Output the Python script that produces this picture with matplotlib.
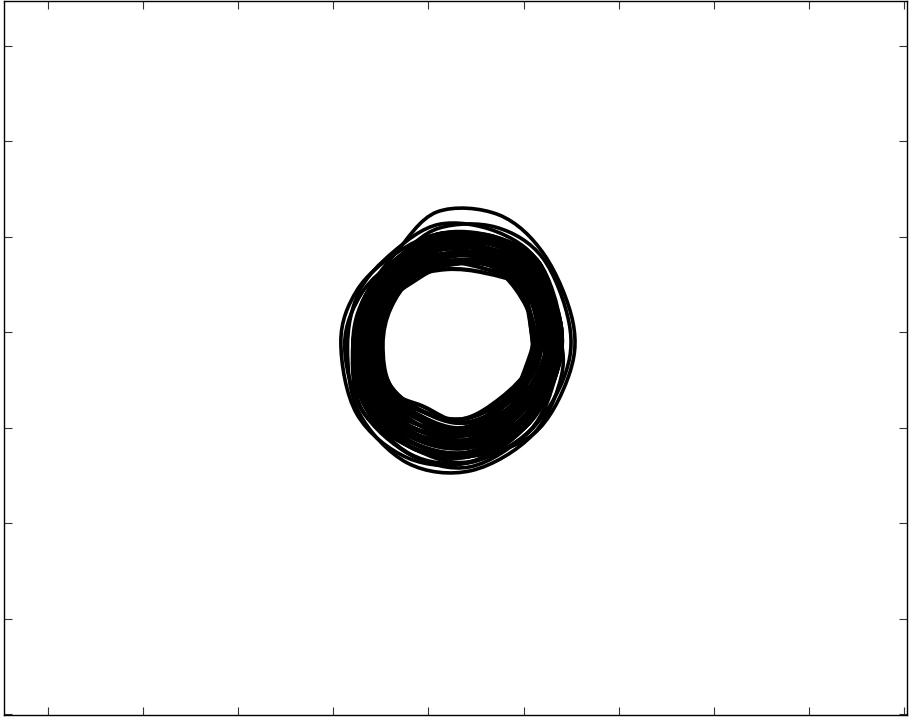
import numpy as np
import matplotlib
matplotlib.use("Agg")
import matplotlib.pyplot as plt
from matplotlib.path import Path
from matplotlib.patches import PathPatch

# Tick positions (no labels shown in the reference)
x_ticks = [-4, -3, -2, -1, 0, 1, 2, 3, 4, 5]
y_ticks = [-4, -3, -2, -1, 0, 1, 2, 3]

# Dense core of the orbit: closed loops (x lists, y lists)
core_loops_x = [
    [-0.48, -0.40, -0.18, 0.19, 0.60, 0.95, 1.08, 1.06, 0.76, 0.36, -0.06, -0.40],
    [-0.51, -0.46, -0.16, 0.18, 0.62, 0.92, 1.11, 1.03, 0.82, 0.37, -0.05, -0.43],
    [-0.58, -0.46, -0.18, 0.18, 0.62, 1.00, 1.18, 1.10, 0.79, 0.36, -0.06, -0.46],
    [-0.55, -0.49, -0.21, 0.17, 0.62, 0.95, 1.11, 1.10, 0.85, 0.38, -0.08, -0.46],
    [-0.62, -0.52, -0.21, 0.17, 0.63, 1.03, 1.25, 1.17, 0.85, 0.38, -0.10, -0.54],
    [-0.58, -0.54, -0.25, 0.16, 0.64, 1.00, 1.22, 1.20, 0.91, 0.39, -0.09, -0.49],
    [-0.65, -0.54, -0.27, 0.14, 0.65, 1.05, 1.22, 1.20, 0.94, 0.41, -0.13, -0.54],
    [-0.69, -0.60, -0.25, 0.15, 0.66, 1.11, 1.29, 1.24, 0.91, 0.40, -0.13, -0.60],
    [-0.72, -0.60, -0.30, 0.14, 0.66, 1.08, 1.32, 1.27, 1.00, 0.41, -0.15, -0.57],
    [-0.76, -0.60, -0.29, 0.13, 0.68, 1.13, 1.32, 1.27, 0.97, 0.42, -0.16, -0.60],
    [-0.79, -0.63, -0.32, 0.13, 0.67, 1.13, 1.39, 1.31, 1.03, 0.42, -0.16, -0.66],
    [-0.79, -0.66, -0.30, 0.12, 0.69, 1.16, 1.39, 1.34, 1.00, 0.43, -0.17, -0.66],
    [-0.76, -0.66, -0.32, 0.12, 0.68, 1.16, 1.36, 1.34, 1.03, 0.43, -0.17, -0.63],
    [-0.69, -0.63, -0.29, 0.14, 0.67, 1.08, 1.36, 1.24, 0.97, 0.41, -0.12, -0.63],
    [-0.51, -0.43, -0.20, 0.17, 0.61, 0.98, 1.15, 1.06, 0.79, 0.38, -0.08, -0.43],
    [-0.62, -0.49, -0.20, 0.17, 0.64, 1.03, 1.18, 1.13, 0.82, 0.38, -0.10, -0.52],
    [-0.65, -0.57, -0.25, 0.16, 0.65, 1.08, 1.25, 1.24, 0.94, 0.40, -0.12, -0.57],
    [-0.72, -0.57, -0.29, 0.14, 0.66, 1.05, 1.29, 1.27, 0.97, 0.41, -0.15, -0.60],
    [-0.76, -0.63, -0.29, 0.13, 0.69, 1.13, 1.36, 1.27, 1.00, 0.42, -0.17, -0.63],
    [-0.58, -0.52, -0.25, 0.15, 0.64, 1.05, 1.25, 1.17, 0.88, 0.40, -0.10, -0.49],
    [-0.69, -0.54, -0.23, 0.15, 0.66, 1.08, 1.32, 1.24, 0.91, 0.39, -0.12, -0.57],
    [-0.79, -0.60, -0.30, 0.12, 0.68, 1.11, 1.39, 1.31, 0.97, 0.43, -0.16, -0.66],
    [-0.55, -0.43, -0.21, 0.16, 0.63, 0.98, 1.22, 1.10, 0.85, 0.39, -0.08, -0.49],
    [-0.62, -0.54, -0.23, 0.17, 0.65, 1.03, 1.18, 1.20, 0.88, 0.38, -0.12, -0.52],
    [-0.69, -0.60, -0.27, 0.14, 0.67, 1.11, 1.29, 1.20, 0.94, 0.41, -0.13, -0.57],
    [-0.76, -0.66, -0.30, 0.14, 0.68, 1.16, 1.32, 1.34, 1.00, 0.41, -0.15, -0.63],
    [-0.51, -0.40, -0.18, 0.17, 0.62, 0.98, 1.08, 1.10, 0.82, 0.37, -0.06, -0.40],
    [-0.65, -0.52, -0.27, 0.14, 0.66, 1.05, 1.25, 1.24, 0.91, 0.41, -0.13, -0.54],
    [-0.76, -0.60, -0.30, 0.13, 0.67, 1.13, 1.39, 1.34, 1.07, 0.44, -0.19, -0.66],
    [-0.79, -0.63, -0.29, 0.14, 0.68, 1.11, 1.36, 1.31, 1.03, 0.44, -0.17, -0.70],
]
core_loops_y = [
    [-0.13, 0.25, 0.56, 0.66, 0.62, 0.48, 0.03, -0.36, -0.69, -0.91, -0.83, -0.56],
    [-0.10, 0.28, 0.53, 0.70, 0.71, 0.45, 0.04, -0.35, -0.75, -0.95, -0.78, -0.59],
    [-0.16, 0.28, 0.56, 0.70, 0.71, 0.54, 0.05, -0.37, -0.72, -0.91, -0.83, -0.61],
    [-0.13, 0.29, 0.61, 0.74, 0.71, 0.48, 0.04, -0.37, -0.79, -1.04, -0.88, -0.61],
    [-0.11, 0.31, 0.61, 0.74, 0.75, 0.57, 0.06, -0.39, -0.79, -1.00, -0.97, -0.68],
    [-0.15, 0.32, 0.67, 0.82, 0.79, 0.54, 0.05, -0.40, -0.85, -1.08, -0.92, -0.63],
    [-0.13, 0.32, 0.70, 0.91, 0.83, 0.61, 0.05, -0.40, -0.88, -1.17, -1.07, -0.68],
    [-0.14, 0.35, 0.67, 0.87, 0.87, 0.67, 0.06, -0.41, -0.85, -1.13, -1.07, -0.73],
    [-0.12, 0.35, 0.75, 0.95, 0.87, 0.64, 0.07, -0.42, -0.95, -1.21, -1.11, -0.71],
    [-0.13, 0.35, 0.72, 0.99, 0.96, 0.70, 0.07, -0.42, -0.92, -1.26, -1.16, -0.73],
    [-0.14, 0.37, 0.78, 0.99, 0.92, 0.70, 0.08, -0.43, -0.98, -1.26, -1.16, -0.78],
    [-0.12, 0.38, 0.75, 1.03, 1.00, 0.73, 0.08, -0.44, -0.95, -1.30, -1.21, -0.78],
    [-0.15, 0.38, 0.78, 1.03, 0.96, 0.73, 0.07, -0.44, -0.98, -1.30, -1.21, -0.75],
    [-0.12, 0.37, 0.72, 0.91, 0.92, 0.64, 0.07, -0.41, -0.92, -1.17, -1.02, -0.75],
    [-0.13, 0.26, 0.59, 0.74, 0.66, 0.51, 0.04, -0.36, -0.72, -1.00, -0.88, -0.59],
    [-0.11, 0.29, 0.59, 0.78, 0.79, 0.57, 0.05, -0.38, -0.75, -1.04, -0.97, -0.66],
    [-0.13, 0.34, 0.67, 0.82, 0.83, 0.64, 0.06, -0.41, -0.88, -1.13, -1.02, -0.71],
    [-0.15, 0.34, 0.72, 0.95, 0.87, 0.61, 0.06, -0.42, -0.92, -1.17, -1.11, -0.73],
    [-0.13, 0.37, 0.72, 0.99, 1.00, 0.70, 0.07, -0.42, -0.95, -1.26, -1.21, -0.75],
    [-0.14, 0.31, 0.67, 0.87, 0.79, 0.61, 0.06, -0.39, -0.82, -1.13, -0.97, -0.63],
    [-0.13, 0.32, 0.64, 0.87, 0.87, 0.64, 0.07, -0.41, -0.85, -1.08, -1.02, -0.71],
    [-0.12, 0.35, 0.75, 1.03, 0.96, 0.67, 0.08, -0.43, -0.92, -1.30, -1.16, -0.78],
    [-0.15, 0.26, 0.61, 0.82, 0.75, 0.51, 0.05, -0.37, -0.79, -1.08, -0.88, -0.63],
    [-0.12, 0.32, 0.64, 0.78, 0.83, 0.57, 0.05, -0.40, -0.82, -1.04, -1.02, -0.66],
    [-0.14, 0.35, 0.70, 0.95, 0.92, 0.67, 0.06, -0.40, -0.88, -1.21, -1.07, -0.71],
    [-0.11, 0.38, 0.75, 0.95, 0.96, 0.73, 0.07, -0.44, -0.95, -1.21, -1.11, -0.75],
    [-0.14, 0.25, 0.56, 0.74, 0.71, 0.51, 0.03, -0.37, -0.75, -0.95, -0.83, -0.56],
    [-0.12, 0.31, 0.70, 0.91, 0.87, 0.61, 0.06, -0.41, -0.85, -1.17, -1.07, -0.68],
    [-0.13, 0.35, 0.75, 0.99, 0.92, 0.70, 0.08, -0.44, -1.03, -1.36, -1.28, -0.78],
    [-0.12, 0.37, 0.72, 0.95, 0.96, 0.67, 0.07, -0.43, -0.98, -1.36, -1.21, -0.81],
]

# Outlying loops of the orbit
stray_loops_x = [
    [-0.92, -0.75, -0.35, 0.12, 0.68, 1.11, 1.32, 1.31, 1.03, 0.44, -0.21, -0.75],
    [-0.76, -0.66, -0.35, 0.09, 0.74, 1.22, 1.52, 1.47, 1.10, 0.43, -0.16, -0.63],
    [-0.85, -0.73, -0.37, 0.11, 0.70, 1.16, 1.36, 1.40, 1.10, 0.45, -0.22, -0.73],
    [-0.88, -0.70, -0.32, 0.11, 0.71, 1.20, 1.48, 1.43, 1.07, 0.44, -0.19, -0.70],
]
stray_loops_y = [
    [-0.10, 0.44, 0.82, 1.03, 0.96, 0.67, 0.07, -0.43, -0.98, -1.36, -1.32, -0.86],
    [-0.13, 0.38, 0.82, 1.26, 1.23, 0.81, 0.10, -0.47, -1.07, -1.30, -1.16, -0.75],
    [-0.16, 0.42, 0.84, 1.13, 1.06, 0.73, 0.07, -0.45, -1.07, -1.45, -1.37, -0.84],
    [-0.13, 0.41, 0.78, 1.09, 1.10, 0.78, 0.09, -0.46, -1.03, -1.41, -1.28, -0.81],
]


def smooth_closed_path(xs, ys):
    """Closed cubic Bezier path passing through the given points (Catmull-Rom handles)."""
    p = np.column_stack([xs, ys]).astype(float)
    n = len(p)
    verts = [p[0]]
    codes = [Path.MOVETO]
    for i in range(n):
        p0, p1, p2, p3 = p[i - 1], p[i], p[(i + 1) % n], p[(i + 2) % n]
        c1 = p1 + (p2 - p0) / 6.0
        c2 = p2 - (p3 - p1) / 6.0
        verts += [c1, c2, p2]
        codes += [Path.CURVE4] * 3
    return Path(verts, codes)


fig = plt.figure(figsize=(9.13, 7.2), dpi=100)
ax = fig.add_axes([4 / 913, 5 / 720, 903 / 913, 714 / 720])

for xs, ys in zip(core_loops_x, core_loops_y):
    ax.add_patch(PathPatch(smooth_closed_path(xs, ys), facecolor="none",
                           edgecolor="black", linewidth=3.0, joinstyle="round"))
for xs, ys in zip(stray_loops_x, stray_loops_y):
    ax.add_patch(PathPatch(smooth_closed_path(xs, ys), facecolor="none",
                           edgecolor="black", linewidth=2.6, joinstyle="round"))

ax.set_xlim(-4.46, 5.03)
ax.set_ylim(-4.01, 3.47)
ax.set_xticks(x_ticks)
ax.set_yticks(y_ticks)
ax.tick_params(direction="in", length=5.5, width=0.8, color="#333333",
               top=True, right=True, labelbottom=False, labelleft=False)
for sp in ax.spines.values():
    sp.set_linewidth(1.0)
    sp.set_color("black")

fig.savefig("out.png", dpi=100)
